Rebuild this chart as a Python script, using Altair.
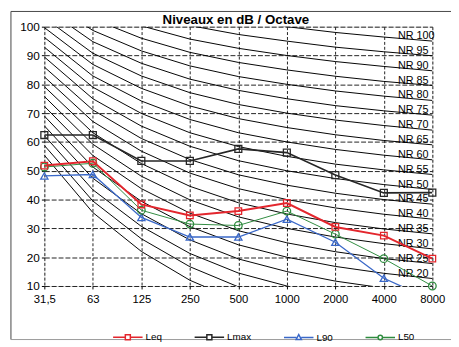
import altair as alt
import pandas as pd

chart_title = ["Niveaux en dB / Octave"]
freqs = ["31,5", "63", "125", "250", "500", "1000", "2000", "4000", "8000"]
series_names = ["Leq", "Lmax", "L90", "L50"]
leq = [51.8, 53.3, 38.3, 34.5, 36.0, 38.8, 30.5, 27.5, 19.5]
lmax = [62.4, 62.4, 53.4, 53.4, 57.6, 56.3, 48.5, 42.3, 42.4]
l90 = [48.2, 48.7, 33.8, 27.0, 27.0, 33.2, 25.2, 12.7, 5.0]
l50 = [51.3, 52.6, 36.3, 31.5, 31.0, 36.0, 28.0, 19.5, 10.0]
series_colors = ["#E3262D", "#262626", "#3A68C8", "#2E8B3E"]
series_shapes = ["square", "square", "triangle-up", "circle"]
series_sizes = [45, 60, 50, 32]
series_widths = [2, 1, 1.5, 2]

nr_levels = [0, 5, 10, 15, 20, 25, 30, 35, 40, 45, 50, 55, 60, 65, 70, 75, 80, 85, 90, 95, 100]
nr_curves = [
    [55.4, 35.5, 22.0, 12.0, 4.8, 0.0, -3.5, -6.1, -8.0],
    [58.8, 39.5, 26.4, 16.7, 9.7, 5.0, 1.6, -1.0, -2.9],
    [62.2, 43.4, 30.7, 21.3, 14.5, 10.0, 6.7, 4.2, 2.3],
    [65.6, 47.4, 35.1, 26.0, 19.4, 15.0, 11.7, 9.3, 7.5],
    [69.0, 51.3, 39.4, 30.6, 24.3, 20.0, 16.8, 14.4, 12.6],
    [72.4, 55.3, 43.8, 35.3, 29.2, 25.0, 21.9, 19.5, 17.8],
    [75.8, 59.2, 48.1, 39.9, 34.0, 30.0, 27.0, 24.7, 22.9],
    [79.2, 63.2, 52.5, 44.6, 38.9, 35.0, 32.0, 29.8, 28.1],
    [82.6, 67.1, 56.8, 49.2, 43.8, 40.0, 37.1, 34.9, 33.2],
    [86.0, 71.1, 61.2, 53.9, 48.6, 45.0, 42.2, 40.0, 38.4],
    [89.5, 75.0, 65.5, 58.5, 53.5, 50.0, 47.3, 45.2, 43.5],
    [92.9, 79.0, 69.9, 63.2, 58.4, 55.0, 52.3, 50.3, 48.7],
    [96.3, 82.9, 74.2, 67.8, 63.2, 60.0, 57.4, 55.4, 53.8],
    [99.7, 86.9, 78.6, 72.5, 68.1, 65.0, 62.5, 60.5, 59.0],
    [103.1, 90.8, 82.9, 77.1, 73.0, 70.0, 67.6, 65.7, 64.1],
    [106.5, 94.8, 87.3, 81.8, 77.9, 75.0, 72.6, 70.8, 69.3],
    [109.9, 98.7, 91.6, 86.4, 82.7, 80.0, 77.7, 75.9, 74.4],
    [113.3, 102.7, 96.0, 91.1, 87.6, 85.0, 82.8, 81.0, 79.6],
    [116.7, 106.6, 100.3, 95.7, 92.5, 90.0, 87.9, 86.2, 84.7],
    [120.1, 110.6, 104.7, 100.4, 97.3, 95.0, 92.9, 91.3, 89.9],
    [123.5, 114.5, 109.0, 105.0, 102.2, 100.0, 98.0, 96.4, 95.0],
]
nr_labelled = [20, 25, 30, 35, 40, 45, 50, 55, 60, 65, 70, 75, 80, 85, 90, 95, 100]
y_ticks = [10, 20, 30, 40, 50, 60, 70, 80, 90, 100]

legend_paths = [
    "M-1,0L-0.17,0M0.17,0L1,0M-0.17,-0.17L0.17,-0.17L0.17,0.17L-0.17,0.17Z",
    "M-1,0L-0.17,0M0.17,0L1,0M-0.17,-0.17L0.17,-0.17L0.17,0.17L-0.17,0.17Z",
    "M-1,0L-0.17,0M0.17,0L1,0M0,-0.2L0.18,0.13L-0.18,0.13Z",
    "M-1,0L-0.15,0M0.15,0L1,0M0.15,0A0.15,0.15,0,1,1,-0.15,0A0.15,0.15,0,1,1,0.15,0Z",
]

# ---- tables ----
nr_rows = []
for lvl, vals in zip(nr_levels, nr_curves):
    for i, (f, v) in enumerate(zip(freqs, vals)):
        nr_rows.append({"level": lvl, "freq": f, "idx": i, "value": v})
nr_df = pd.DataFrame(nr_rows)

lab_rows = []
for lvl, vals in zip(nr_levels, nr_curves):
    if lvl in nr_labelled:
        lab_rows.append({"freq": freqs[-1], "value": vals[-1], "label": f"NR {lvl}"})
lab_df = pd.DataFrame(lab_rows)

draw_order = ["Lmax", "L90", "L50", "Leq"]
series_map = {"Leq": leq, "Lmax": lmax, "L90": l90, "L50": l50}
s_rows = []
for s in draw_order:
    for i, (f, v) in enumerate(zip(freqs, series_map[s])):
        s_rows.append({"series": s, "freq": f, "idx": i, "value": v})
s_df = pd.DataFrame(s_rows)

FONT = "Liberation Sans"

x_enc = alt.X(
    "freq:N", sort=freqs, scale=alt.Scale(type="point", padding=0),
    axis=alt.Axis(title=None, labelAngle=0, grid=True, gridDash=[3, 2], gridColor="#222222",
                  gridWidth=1, domain=False, ticks=True, tickSize=3, tickColor="#000000",
                  labelPadding=5, labelFontSize=11.5, labelFont=FONT, labelColor="#000000"),
)
y_enc = alt.Y(
    "value:Q", scale=alt.Scale(domain=[10, 100], nice=False, zero=False),
    axis=alt.Axis(title=None, values=y_ticks, grid=True, gridDash=[5, 2], gridColor="#222222",
                  gridWidth=1, domain=False, ticks=True, tickSize=3, tickColor="#000000",
                  labelPadding=2, labelFontSize=12, labelFont=FONT, labelColor="#000000"),
)

frame_df = pd.DataFrame({"k": [0]})
frame_top = alt.Chart(frame_df).mark_rule(color="#444444", strokeWidth=1, clip=False).encode(
    x=alt.value(-34), x2=alt.value(420), y=alt.value(-15.5))
frame_left = alt.Chart(frame_df).mark_rule(color="#444444", strokeWidth=1, clip=False).encode(
    x=alt.value(-34), y=alt.value(-15.5), y2=alt.value(318.5))
frame_bottom = alt.Chart(frame_df).mark_rule(color="#999999", strokeWidth=1, clip=False).encode(
    x=alt.value(-34), x2=alt.value(420), y=alt.value(318.5))

title_df = pd.DataFrame({"t": chart_title})
title_layer = alt.Chart(title_df).mark_text(
    fontSize=13.5, fontWeight="bold", font=FONT, color="#000000", align="center",
    baseline="alphabetic", clip=False).encode(
    x=alt.value(195), y=alt.value(-3), text="t:N")

nr_lines = alt.Chart(nr_df).mark_line(color="#000000", strokeWidth=1, clip=True).encode(
    x=x_enc, y=y_enc, detail="level:N", order="idx:Q")

nr_text = alt.Chart(lab_df).mark_text(
    align="left", baseline="middle", dx=-35, dy=-5, fontSize=11, font=FONT,
    color="#000000", clip=False).encode(x=x_enc, y=y_enc, text="label:N")

s_lines = alt.Chart(s_df).mark_line(clip=True).encode(
    x=x_enc, y=y_enc,
    color=alt.Color("series:N", scale=alt.Scale(domain=series_names, range=series_colors), legend=None),
    strokeWidth=alt.StrokeWidth("series:N", scale=alt.Scale(domain=series_names, range=series_widths), legend=None),
    order="idx:Q",
)
s_points = alt.Chart(s_df).transform_filter("datum.value >= 10").mark_point(
    filled=False, strokeWidth=1.3, opacity=1, clip=False).encode(
    x=x_enc, y=y_enc,
    color=alt.Color("series:N", scale=alt.Scale(domain=series_names, range=series_colors), legend=None),
    shape=alt.Shape("series:N", scale=alt.Scale(domain=series_names, range=series_shapes), legend=None),
    size=alt.Size("series:N", scale=alt.Scale(domain=series_names, range=series_sizes), legend=None),
)

leg = alt.Legend(title=None, orient="none", legendX=69, legendY=300, direction="horizontal",
                 symbolSize=900, symbolStrokeWidth=1.5, labelFontSize=10, labelFont=FONT,
                 labelColor="#000000", labelOffset=2, columnPadding=30)
legend_layer = alt.Chart(s_df).transform_filter("false").mark_point(
    filled=False, strokeWidth=1.5, size=900, opacity=1).encode(
    x=x_enc, y=y_enc,
    color=alt.Color("series:N", scale=alt.Scale(domain=series_names, range=series_colors), legend=leg),
    shape=alt.Shape("series:N", scale=alt.Scale(domain=series_names, range=legend_paths), legend=leg),
)

chart = alt.layer(
    nr_lines, nr_text, frame_top, frame_left, frame_bottom, title_layer,
    s_lines, s_points, legend_layer
).resolve_scale(
    color="independent", shape="independent"
).properties(
    width=395, height=264,
    autosize=alt.AutoSizeParams(type="none"),
    padding={"left": 37, "top": 16, "right": 19, "bottom": 55},
).configure_view(
    stroke="#000000", strokeWidth=1
).configure(background="white")

chart.save("out.html", embed_options={"renderer": "svg", "actions": False})
